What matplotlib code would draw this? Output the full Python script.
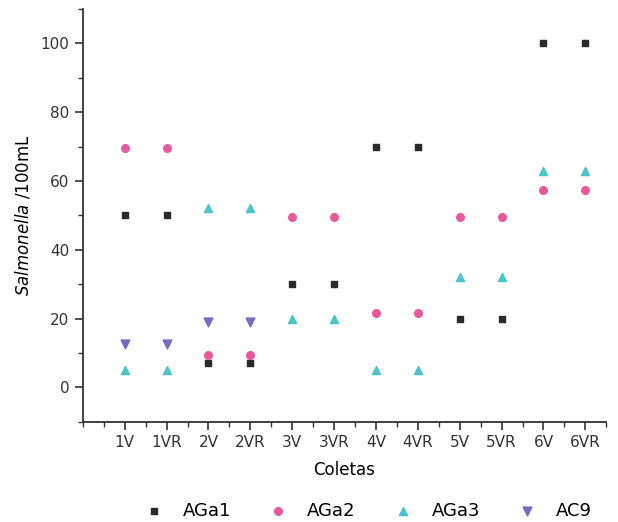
import numpy as np
import matplotlib.pyplot as plt
from matplotlib.ticker import MultipleLocator

# --- Données ---
coletas = ["1V", "1VR", "2V", "2VR", "3V", "3VR", "4V", "4VR", "5V", "5VR", "6V", "6VR"]
aga1 = [50, 50, 7, 7, 30, 30, 70, 70, 20, 20, 100, 100]
aga2 = [69.5, 69.5, 9.5, 9.5, 49.5, 49.5, 21.5, 21.5, 49.5, 49.5, 57.5, 57.5]
aga3 = [5, 5, 52, 52, 20, 20, 5, 5, 32, 32, 63, 63]
ac9 = [12.5, 12.5, 19, 19]

x = np.arange(1, len(coletas) + 1)

fig = plt.figure(figsize=(6.18, 5.22), dpi=100)
ax = fig.add_axes([0.134, 0.192, 0.847, 0.791])

ax.scatter(x, aga1, marker="s", s=22, color="#2a2a2a", label="AGa1", zorder=3)
ax.scatter(x, aga2, marker="o", s=30, color="#e8589c", label="AGa2", zorder=3)
ax.scatter(x, aga3, marker="^", s=34, color="#4cc4cc", label="AGa3", zorder=3)
ax.scatter(x[:len(ac9)], ac9, marker="v", s=40, color="#7a68c2", label="AC9", zorder=3)

ax.set_xlim(0, 12.5)
ax.set_ylim(-10, 110)
ax.set_xticks(x)
ax.set_xticklabels(coletas)
ax.xaxis.set_minor_locator(MultipleLocator(0.5))
ax.yaxis.set_minor_locator(MultipleLocator(10))
ax.set_yticks([0, 20, 40, 60, 80, 100])

for s in ["top", "right"]:
    ax.spines[s].set_visible(False)
for s in ["left", "bottom"]:
    ax.spines[s].set_linewidth(1.3)
    ax.spines[s].set_color("#333333")

ax.tick_params(which="major", direction="out", length=6, width=1.2, labelsize=11, colors="#333333")
ax.tick_params(which="minor", direction="out", length=3.5, width=1.0, colors="#333333")

ax.set_xlabel("Coletas", fontsize=12, labelpad=8)
ax.set_ylabel(r"$\it{Salmonella}$ /100mL", fontsize=12, labelpad=6)

fig.legend(loc="center", bbox_to_anchor=(0.595, 0.022), ncol=4, frameon=False,
           fontsize=13, handletextpad=1.0, columnspacing=2.0, handlelength=1.2,
           borderaxespad=0, borderpad=0)

fig.savefig("out.png", dpi=100)
